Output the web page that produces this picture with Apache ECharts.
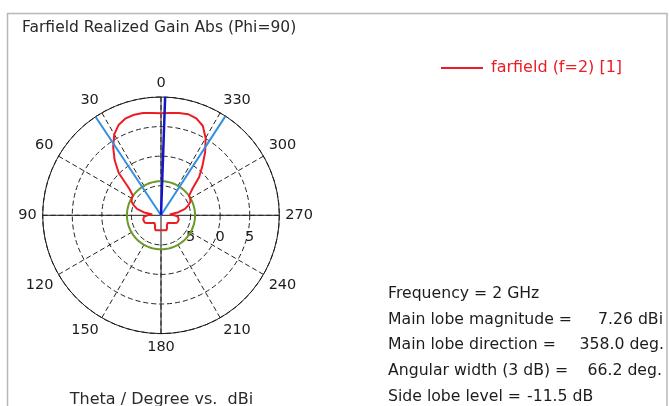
<!DOCTYPE html>
<html><head><meta charset="utf-8">
<script src="https://cdn.jsdelivr.net/npm/echarts@6/dist/echarts.min.js"></script>
<style>html,body{margin:0;padding:0;background:#fff}#c{width:670px;height:406px}</style>
</head><body><div id="c"></div>
<script>
// ---- data ----
const thetaDeg = [0,5,10,15,20,25,30,35,40,45,50,55,60,65,70,75,80,85,90,95,100,105,110,115,120,125,130,135,140,145,150,155,160,165,170,175,180,
  185,190,195,200,205,210,215,220,225,230,235,240,245,250,255,260,265,270,275,280,285,290,295,300,305,310,315,320,325,330,335,340,345,350,355,360];
const gainDbi = [7.26,7.35,7.55,7.6,7.45,6.9,5.8,4.1,2.2,0.1,-3.0,-4.2,-4.3,-4.5,-5.1,-5.8,-7.0,-8.5,-7.7,-7.1,-7.0,-6.9,-6.95,-7.0,-7.4,-7.7,-8.0,-8.15,-8.3,-8.2,-8.0,-7.6,-7.3,-7.38,-7.43,-7.45,-7.46,
  -7.45,-7.43,-7.38,-7.3,-7.6,-8.0,-8.2,-8.3,-8.15,-8.0,-7.7,-7.4,-7.0,-6.95,-6.9,-7.0,-7.1,-7.7,-8.5,-7.0,-5.8,-5.1,-4.5,-4.3,-4.2,-3.1,-0.9,0.9,3.0,5.1,6.7,7.45,7.7,7.55,7.35,7.26];
const angleTicks = [0,30,60,90,120,150,180,210,240,270,300,330];
const radiusTicks = [-5,0,5];
const radiusTickLabels = ['5','0','5'];
const radiusRange = [-10,10];
const mainLobeDirection = 358.0;
const beamEdges = [33.6, 327.0];        // 3 dB points
const sideLobeLevel = -4.24;            // 7.26 dBi - 11.5 dB
const seriesName = 'farfield (f=2) [1]';
const infoLabels = ['Frequency = 2 GHz','Main lobe magnitude =','Main lobe direction =','Angular width (3 dB) =','Side lobe level ='];
const infoValues = ['','7.26 dBi','358.0 deg.','66.2 deg.','-11.5 dB'];

// ---- layout / style ----
const FONT = '"DejaVu Sans", Verdana, sans-serif';
const RED = '#ec1c24', GREEN = '#6b9a26', LBLUE = '#3490e2', DBLUE = '#1414cc';
const TXT = '#1c1c1c';
const CENTER = [161, 215.3], R = 118.3;
const valueX = [0, 598, 579.5, 587.5, 527];

const chart = echarts.init(document.getElementById('c'), null, {renderer:'canvas'});
const hidden = {axisLine:{show:false}, axisTick:{show:false}, axisLabel:{show:false}, splitLine:{show:false}};
const dash = {color:'#222', width:1, type:[5,3]};

const graphic = [
  {type:'rect', silent:true, shape:{x:7.5,y:13.5,width:659.5,height:430}, style:{fill:'none', stroke:'#b8b8b8', lineWidth:1.5}},
  {type:'text', x:22, y:28, style:{text:'Farfield Realized Gain Abs (Phi=90)', font:'15.5px '+FONT, fill:'#2a2a2a', align:'left', verticalAlign:'middle'}},
  {type:'text', x:161.5, y:400, style:{text:'Theta / Degree vs.  dBi', font:'16px '+FONT, fill:'#2a2a2a', align:'center', verticalAlign:'middle'}}
];
infoLabels.forEach((t,i)=>{
  graphic.push({type:'text', x:388, y:293.8+25.75*i, style:{text:t, font:'15.7px '+FONT, fill:TXT, align:'left', verticalAlign:'middle'}});
  if (infoValues[i]) graphic.push({type:'text', x:valueX[i], y:293.8+25.75*i, style:{text:infoValues[i], font:'15.7px '+FONT, fill:TXT, align:'left', verticalAlign:'middle'}});
});

chart.setOption({
  animation:false,
  backgroundColor:'#fff',
  polar:[
    {center:CENTER, radius:[0,R]},
    {center:CENTER, radius:[0,R]},
    {center:CENTER, radius:[R*0.25,R]}
  ],
  angleAxis:[
    {polarIndex:0, type:'value', min:0, max:360, interval:30, startAngle:90, clockwise:false,
     axisLine:{show:true, lineStyle:{color:'#1a1a1a', width:1}}, axisTick:{show:false},
     axisLabel:{show:true, margin:6, fontSize:14.5, fontFamily:FONT, color:TXT,
       formatter:v=> angleTicks.includes(v) ? String(v) : ''},
     splitLine:{show:false}},
    {polarIndex:1, type:'value', min:0, max:360, interval:90, startAngle:0, clockwise:false,
     axisLine:{show:false}, axisTick:{show:false}, axisLabel:{show:false},
     splitLine:{show:true, lineStyle:{color:'#1a1a1a', width:1, type:'solid'}}},
    {polarIndex:2, type:'value', min:0, max:360, interval:30, startAngle:90, clockwise:false,
     axisLine:{show:false}, axisTick:{show:false}, axisLabel:{show:false},
     splitLine:{show:true, lineStyle:dash}}
  ],
  radiusAxis:[
    {polarIndex:0, type:'value', min:radiusRange[0], max:radiusRange[1], interval:5,
     axisLine:{show:false}, axisTick:{show:false}, axisLabel:{show:false},
     splitLine:{show:true, lineStyle:dash}},
    {polarIndex:1, type:'value', min:radiusRange[0], max:radiusRange[1], interval:5,
     axisLine:{show:false}, axisTick:{show:false}, splitLine:{show:false},
     axisLabel:{show:true, margin:-22, align:'center', verticalAlign:'middle', fontSize:14.5, fontFamily:FONT, color:TXT,
       formatter:v=>{const k=radiusTicks.indexOf(v); return k>=0 ? radiusTickLabels[k] : '';}}},
    Object.assign({polarIndex:2, type:'value', min:radiusRange[0], max:radiusRange[1]}, hidden)
  ],
  legend:{data:[{name:seriesName, icon:'rect'}], left:441, top:60, padding:0, itemWidth:42, itemHeight:2, selectedMode:false,
    textStyle:{color:RED, fontSize:16, fontFamily:FONT, padding:[0,0,0,3]}},
  graphic:graphic,
  series:[
    {type:'line', name:'sll', coordinateSystem:'polar', polarIndex:0, symbol:'none', z:3,
     data:thetaDeg.map(t=>[sideLobeLevel,t]), lineStyle:{color:GREEN, width:2}},
    {type:'line', name:seriesName, coordinateSystem:'polar', polarIndex:0, symbol:'none', z:4,
     data:thetaDeg.map((t,i)=>[gainDbi[i],t]), lineStyle:{color:RED, width:2}, itemStyle:{color:RED}},
    {type:'line', name:'3dB', coordinateSystem:'polar', polarIndex:0, symbol:'none', z:5,
     data:[[radiusRange[1],beamEdges[0]],[radiusRange[0],beamEdges[0]],[radiusRange[0],beamEdges[1]],[radiusRange[1],beamEdges[1]]],
     lineStyle:{color:LBLUE, width:2}},
    {type:'line', name:'dir', coordinateSystem:'polar', polarIndex:0, symbol:'none', z:6,
     data:[[radiusRange[0],mainLobeDirection],[radiusRange[1],mainLobeDirection]], lineStyle:{color:DBLUE, width:2.5}}
  ]
});
</script></body></html>
